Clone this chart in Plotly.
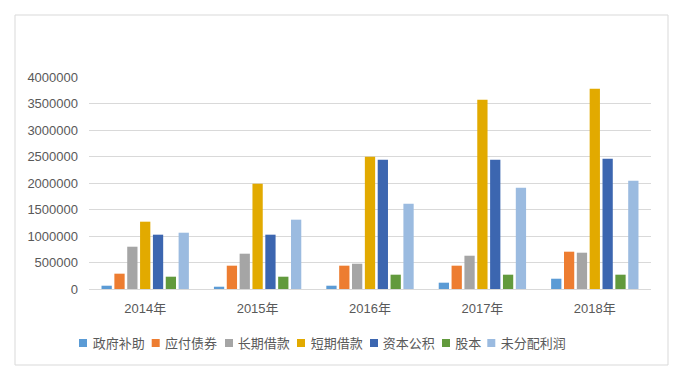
import plotly.graph_objects as go

years = ["2014年", "2015年", "2016年", "2017年", "2018年"]
series_names = ["政府补助", "应付债券", "长期借款", "短期借款", "资本公积", "股本", "未分配利润"]
gov_subsidy = [62000, 43000, 62000, 119000, 194000]
bonds_payable = [289000, 440000, 440000, 440000, 704000]
long_term_loans = [798000, 666000, 477000, 628000, 685000]
short_term_loans = [1270000, 1987000, 2496000, 3572000, 3779000]
capital_reserve = [1025000, 1025000, 2440000, 2440000, 2459000]
share_capital = [232000, 232000, 270000, 270000, 270000]
retained_profit = [1062000, 1308000, 1610000, 1911000, 2043000]
y_ticks = [0, 500000, 1000000, 1500000, 2000000, 2500000, 3000000, 3500000, 4000000]

values = [gov_subsidy, bonds_payable, long_term_loans, short_term_loans,
          capital_reserve, share_capital, retained_profit]
colors = ["#5B9BD5", "#ED7D31", "#A5A5A5", "#E2AA00", "#3C66B0", "#629A3D", "#9BBBE0"]

# legend layout (page pixels): where each legend text starts and its key square's left edge
legend_text_x = [92.7, 165, 237.7, 310.7, 382.7, 455.3, 500.7]
legend_key_x = [79, 151.7, 225, 297, 370, 442, 487.3]
LEGEND_Y = 343
KEY = 8

PL, PW, PT, PH = 89, 562, 77, 212


def px_x(x):
    return (x - PL) / PW


def px_y(y):
    return (PT + PH - y) / PH


fig = go.Figure()
for name, vals, col in zip(series_names, values, colors):
    fig.add_trace(go.Bar(x=years, y=vals, name=name, showlegend=False,
                         legendgroup=name,
                         marker=dict(color=col, line=dict(width=0))))

legend_font = dict(size=13, color="#595959", family="Noto Sans CJK SC, sans-serif")
legends = {}
shapes = []
for i, (name, col, tx, kx) in enumerate(zip(series_names, colors, legend_text_x, legend_key_x)):
    key = "legend" if i == 0 else f"legend{i + 1}"
    fig.add_trace(go.Scatter(x=[None], y=[None], mode="markers", name=name,
                             legend=key, legendgroup=name, showlegend=True,
                             marker=dict(symbol="square", size=1, color="rgba(0,0,0,0)")))
    legends[key] = dict(orientation="h", xref="paper", yref="paper",
                        x=px_x(tx - 40), xanchor="left",
                        y=px_y(LEGEND_Y), yanchor="middle",
                        font=legend_font, itemwidth=30,
                        bgcolor="rgba(0,0,0,0)", borderwidth=0)
    shapes.append(dict(type="rect", xref="paper", yref="paper",
                       x0=px_x(kx), x1=px_x(kx + KEY),
                       y0=px_y(LEGEND_Y + KEY / 2), y1=px_y(LEGEND_Y - KEY / 2),
                       line=dict(width=0), fillcolor=col))

shapes.append(dict(type="rect", xref="paper", yref="paper",
                   x0=px_x(15), x1=px_x(668), y0=px_y(365), y1=px_y(15),
                   line=dict(color="#D9D9D9", width=1), fillcolor="rgba(0,0,0,0)", layer="below"))

num_font = "Liberation Sans, Noto Sans CJK SC, sans-serif"
fig.update_layout(
    width=680, height=372,
    margin=dict(l=PL, r=680 - PL - PW, t=PT, b=372 - PT - PH, autoexpand=False),
    paper_bgcolor="white", plot_bgcolor="white",
    barmode="group", bargap=0.2, bargroupgap=0.2,
    font=dict(family=num_font, color="#595959", size=13),
    yaxis=dict(range=[0, 4000000], tickvals=y_ticks, tickformat="d",
               showgrid=True, gridcolor="#D9D9D9", gridwidth=1, zeroline=False,
               showline=False, ticks="", ticklabelstandoff=10,
               tickfont=dict(size=13, color="#595959")),
    xaxis=dict(showgrid=False, showline=True, linecolor="#D9D9D9", ticks="",
               tickfont=dict(size=13, color="#595959"), ticklabelstandoff=7),
    shapes=shapes,
    **legends,
)

fig.write_html("out.html")
